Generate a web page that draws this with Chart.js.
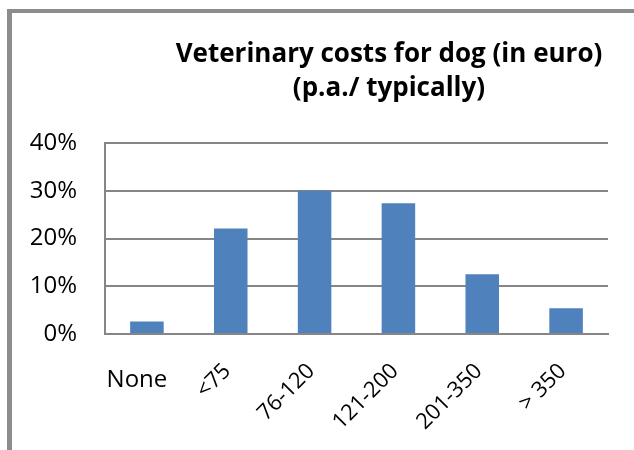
<!DOCTYPE html>
<html>
<head>
<meta charset="utf-8">
<script src="https://cdn.jsdelivr.net/npm/chart.js@4"></script>
<style>
  html, body { margin: 0; padding: 0; background: #fff; }
  #wrap { position: relative; width: 634px; height: 450px; overflow: hidden; }
  #frame {
    position: absolute; left: 7px; top: 9px; width: 800px; height: 600px;
    border-left: 5px solid #8c8c8c; border-top: 4px solid #8c8c8c;
  }
  #costChart { position: absolute; left: 0; top: 0; }
</style>
</head>
<body>
<div id="wrap">
  <div id="frame"></div>
  <canvas id="costChart" width="634" height="450"></canvas>
</div>
<script>
  const categories = ['None', '<75', '76-120', '121-200', '201-350', '> 350'];
  const shares = [2.6, 22.1, 30.0, 27.4, 12.5, 5.4]; // percent
  const yTicks = [0, 10, 20, 30, 40];
  const titleLines = ['Veterinary costs for dog (in euro)', '(p.a./ typically)'];

  const gridGray = '#868686';
  const fontFam = '"Open Sans", sans-serif';

  // title centred over the whole chart box, like Excel does
  const titlePlugin = {
    id: 'excelTitle',
    afterDraw(chart) {
      const ctx = chart.ctx;
      ctx.save();
      ctx.fillStyle = '#000';
      ctx.font = 'bold 26px ' + fontFam;
      ctx.textAlign = 'center';
      ctx.textBaseline = 'alphabetic';
      ctx.fillText(titleLines[0], 389, 62);
      ctx.fillText(titleLines[1], 389, 96);
      ctx.restore();
    }
  };

  // category labels: first one flat, the rest turned 45 degrees
  const xLabelPlugin = {
    id: 'xLabels',
    afterDraw(chart) {
      const ctx = chart.ctx;
      const x = chart.scales.x;
      ctx.save();
      ctx.fillStyle = '#000';
      categories.forEach(function(label, i) {
        const px = x.getPixelForValue(i);
        if (i === 0) {
          ctx.font = '24px ' + fontFam;
          ctx.textAlign = 'center';
          ctx.fillText(label, px - 10, 387);
        } else {
          ctx.save();
          ctx.font = '22px ' + fontFam;
          ctx.translate(px + 1, 372);
          ctx.rotate(-Math.PI / 4);
          ctx.textAlign = 'right';
          ctx.fillText(label, 0, 0);
          ctx.restore();
        }
      });
      ctx.restore();
    }
  };

  const config = {
    type: 'bar',
    data: {
      labels: categories,
      datasets: [{
        data: shares,
        backgroundColor: '#4f81bd',
        borderWidth: 0,
        barPercentage: 0.4,
        categoryPercentage: 1.0
      }]
    },
    options: {
      responsive: false,
      animation: false,
      layout: {
        padding: { top: 143, left: 0, right: 26, bottom: 116 }
      },
      plugins: {
        legend: { display: false },
        title: { display: false },
        tooltip: { enabled: false }
      },
      scales: {
        x: {
          grid: { display: false, drawTicks: false },
          border: { display: true, color: gridGray, width: 2 },
          ticks: { display: false }
        },
        y: {
          min: 0,
          max: 40,
          afterFit: function(scale) { scale.width = 105; },
          afterBuildTicks: function(scale) {
            scale.ticks = yTicks.map(function(v) { return { value: v }; });
          },
          grid: { color: gridGray, lineWidth: 2, drawTicks: false },
          border: { display: true, color: gridGray, width: 2 },
          ticks: {
            padding: 28,
            color: '#000',
            font: { family: 'Open Sans', size: 24 },
            callback: function(v) { return v + '%'; }
          }
        }
      }
    },
    plugins: [titlePlugin, xLabelPlugin]
  };

  window.onload = function() {
    const ctx = document.getElementById('costChart').getContext('2d');
    new Chart(ctx, config);
  };
</script>
</body>
</html>
